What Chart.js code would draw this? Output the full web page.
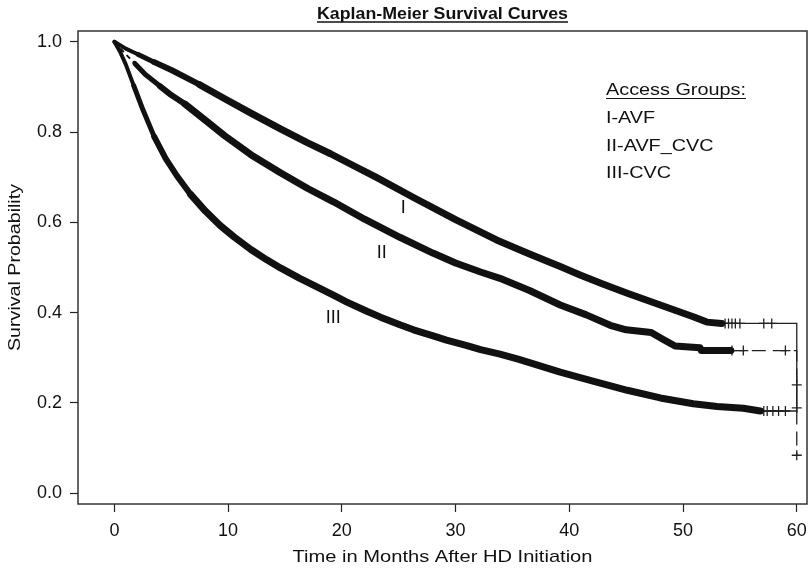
<!DOCTYPE html>
<html>
<head>
<meta charset="utf-8">
<script src="https://cdn.jsdelivr.net/npm/chart.js@4/dist/chart.umd.min.js"></script>
<style>
  html, body { margin: 0; padding: 0; background: #fff; }
  #wrap { width: 810px; height: 568px; }
</style>
</head>
<body>
<div id="wrap"><canvas id="km" width="810" height="568"></canvas></div>
<script>
// Kaplan-Meier estimates (months, survival)
const timeI = [0, 1, 2.1, 3.5, 5.05, 7.5, 9.7, 12, 14.6, 17, 19, 21, 23, 26.3, 30, 33.6, 36.5, 39.2, 41, 43, 45.1, 48, 50.9, 52.1, 53.4];
const survI = [1.0, 0.985, 0.972, 0.955, 0.937, 0.905, 0.874, 0.842, 0.807, 0.776, 0.752, 0.726, 0.7, 0.655, 0.606, 0.561, 0.53, 0.502, 0.483, 0.463, 0.443, 0.417, 0.391, 0.379, 0.376];

const timeII = [0, 0.9, 1.8, 2.7, 4, 5, 6.2, 8, 9.7, 12, 14.6, 17, 19.3, 22, 25.1, 28, 30, 32.2, 33.9, 36.5, 39.2, 41.5, 43.6, 45, 47.2, 48.3, 49.3, 51.5, 51.6, 54.2];
const survII = [1.0, 0.975, 0.952, 0.928, 0.902, 0.882, 0.862, 0.826, 0.792, 0.75, 0.71, 0.675, 0.645, 0.607, 0.567, 0.532, 0.51, 0.49, 0.476, 0.449, 0.417, 0.395, 0.372, 0.362, 0.356, 0.34, 0.326, 0.322, 0.316, 0.316];

const timeIII = [0, 0.5, 1, 1.7, 2.5, 3.5, 4.5, 5.5, 6.7, 8, 9.3, 10.5, 12, 13.4, 14.6, 16.3, 17.5, 19.3, 20.4, 22.2, 23.4, 25.1, 26.3, 28.1, 29.2, 31, 32.2, 33.9, 35.5, 39.2, 42, 45.1, 48, 50.9, 53, 55.3, 56.8];
const survIII = [1.0, 0.978, 0.95, 0.903, 0.85, 0.79, 0.742, 0.703, 0.662, 0.625, 0.593, 0.568, 0.54, 0.517, 0.499, 0.476, 0.461, 0.438, 0.424, 0.403, 0.39, 0.373, 0.362, 0.348, 0.339, 0.327, 0.318, 0.308, 0.297, 0.268, 0.249, 0.228, 0.211, 0.198, 0.192, 0.188, 0.182];

// sparse tails after the dense part
const tailTimeI = [53.4, 60, 60];
const tailSurvI = [0.376, 0.376, 0.18];
const tailTimeII = [54.2, 60, 60];
const tailSurvII = [0.316, 0.316, 0.084];
const tailTimeIII = [56.8, 60];
const tailSurvIII = [0.182, 0.182];

// censored observations (+)
const censTimeI = [53.7, 54.0, 54.3, 54.6, 55.0, 57.1, 57.8];
const censSurvI = [0.376, 0.376, 0.376, 0.376, 0.376, 0.376, 0.376];
const censTimeII = [54.3, 55.3, 59.0, 60, 60];
const censSurvII = [0.316, 0.316, 0.316, 0.24, 0.084];
const censTimeIII = [57.1, 57.4, 57.9, 58.4, 59.0, 60];
const censSurvIII = [0.182, 0.182, 0.182, 0.182, 0.182, 0.189];

const xTicks = [0, 10, 20, 30, 40, 50, 60];
const yTicks = [0, 0.2, 0.4, 0.6, 0.8, 1.0];

const groupNames = ["I-AVF", "II-AVF_CVC", "III-CVC"];
const curveTags = ["I", "II", "III"];
const curveTagTime = [25.4, 23.5, 19.25];
const curveTagSurv = [0.632, 0.532, 0.388];

const INK = "#111";
const FONT = "'Liberation Sans', Arial, Helvetica, sans-serif";

function pts(xs, ys) {
  return xs.map((x, i) => ({ x: x, y: ys[i] }));
}

// the dense run of "+" marks reads as a thick band, thinner near t = 0
function bandWidth(x) {
  if (x < 1.5) return 4;
  if (x < 3.5) return 5;
  if (x < 6) return 6;
  return 7;
}

function band(xs, ys, dashedStart) {
  return {
    data: pts(xs, ys),
    showLine: true,
    borderColor: INK,
    backgroundColor: INK,
    pointRadius: 0,
    tension: 0,
    borderJoinStyle: "round",
    borderCapStyle: "round",
    segment: {
      borderWidth: (ctx) => {
        const x = ctx.p0.parsed.x;
        if (dashedStart && x < 1.8) return 2;
        return bandWidth(x);
      },
      borderDash: (ctx) => (dashedStart && ctx.p0.parsed.x < 1.8 ? [5, 4] : undefined),
      borderCapStyle: (ctx) => (dashedStart && ctx.p0.parsed.x < 1.8 ? "butt" : undefined)
    }
  };
}

function tail(xs, ys, dash) {
  return {
    data: pts(xs, ys),
    showLine: true,
    borderColor: "#222",
    borderWidth: 1.3,
    borderDash: dash || [],
    pointRadius: 0
  };
}

function censor(xs, ys) {
  return {
    data: pts(xs, ys),
    showLine: false,
    pointStyle: "cross",
    pointRadius: 5,
    pointBorderWidth: 1.3,
    pointBorderColor: "#222",
    pointBackgroundColor: "#222"
  };
}

// the original lettering runs wider than Liberation Sans, so stretch it to width
function wideText(ctx, text, x, y, targetWidth, align, angle) {
  const w = ctx.measureText(text).width;
  const sx = targetWidth ? targetWidth / w : 1;
  ctx.save();
  ctx.translate(x, y);
  if (angle) ctx.rotate(angle);
  ctx.scale(sx, 1);
  ctx.textAlign = align;
  ctx.fillText(text, 0, 0);
  ctx.restore();
  return { width: w * sx, scale: sx };
}

const decorPlugin = {
  id: "decor",
  afterDraw(chart) {
    const ctx = chart.ctx;
    const a = chart.chartArea;
    const xs = chart.scales.x;
    const ys = chart.scales.y;
    const cx = (a.left + a.right) / 2;
    const cy = (a.top + a.bottom) / 2;

    ctx.save();
    ctx.strokeStyle = "#333";
    ctx.lineWidth = 1.5;
    ctx.strokeRect(a.left, a.top, a.right - a.left, a.bottom - a.top);

    ctx.fillStyle = INK;
    ctx.strokeStyle = INK;
    ctx.textBaseline = "alphabetic";

    // main title, bold and underlined
    ctx.font = "bold 17px " + FONT;
    const t = wideText(ctx, "Kaplan-Meier Survival Curves", cx, 19, 251, "center");
    ctx.lineWidth = 1.3;
    ctx.beginPath();
    ctx.moveTo(cx - t.width / 2, 22);
    ctx.lineTo(cx + t.width / 2, 22);
    ctx.stroke();

    // axis titles
    ctx.font = "17px " + FONT;
    wideText(ctx, "Time in Months After HD Initiation", cx, 562, 300, "center");
    wideText(ctx, "Survival Probability", 20, cy, 167, "center", -Math.PI / 2);

    // group legend
    const lx = 606;
    const head = wideText(ctx, "Access Groups:", lx, 95, 140, "left");
    ctx.lineWidth = 1.2;
    ctx.beginPath();
    ctx.moveTo(lx, 98.5);
    ctx.lineTo(lx + head.width, 98.5);
    ctx.stroke();
    groupNames.forEach((name, i) => {
      const w = ctx.measureText(name).width;
      wideText(ctx, name, lx, 123 + i * 27.6, w * head.scale, "left");
    });

    // curve tags
    ctx.font = "18px " + FONT;
    ctx.textAlign = "center";
    ctx.textBaseline = "middle";
    curveTags.forEach((tag, i) => {
      ctx.fillText(tag, xs.getPixelForValue(curveTagTime[i]), ys.getPixelForValue(curveTagSurv[i]));
    });
    ctx.restore();
  }
};

new Chart(document.getElementById("km"), {
  type: "scatter",
  data: {
    datasets: [
      band(timeI, survI, false),
      band(timeII, survII, true),
      band(timeIII, survIII, false),
      tail(tailTimeI, tailSurvI),
      tail(tailTimeII, tailSurvII, [14, 7]),
      tail(tailTimeIII, tailSurvIII),
      censor(censTimeI, censSurvI),
      censor(censTimeII, censSurvII),
      censor(censTimeIII, censSurvIII)
    ]
  },
  options: {
    responsive: false,
    animation: false,
    events: [],
    layout: { autoPadding: false, padding: { top: 31, right: 3, left: 0, bottom: 0 } },
    plugins: {
      legend: { display: false },
      tooltip: { enabled: false },
      title: { display: false }
    },
    scales: {
      x: {
        type: "linear",
        min: -3.2,
        max: 60.9,
        afterBuildTicks: (s) => { s.ticks = xTicks.map((v) => ({ value: v })); },
        afterFit: (s) => {
          s.height = 64;
          s.paddingLeft = 0;
          s.paddingRight = 0;
        },
        grid: { drawOnChartArea: false, drawTicks: true, tickLength: 8, tickColor: "#222", tickWidth: 1.2 },
        border: { display: false },
        ticks: { color: INK, font: { family: FONT, size: 18 }, padding: 8, maxRotation: 0 },
        title: { display: false }
      },
      y: {
        type: "linear",
        min: -0.024,
        max: 1.024,
        afterBuildTicks: (s) => { s.ticks = yTicks.map((v) => ({ value: v })); },
        afterFit: (s) => {
          s.width = 78;
          s.paddingTop = 0;
          s.paddingBottom = 0;
        },
        grid: { drawOnChartArea: false, drawTicks: true, tickLength: 8, tickColor: "#222", tickWidth: 1.2 },
        border: { display: false },
        ticks: {
          color: INK,
          font: { family: FONT, size: 18 },
          padding: 8,
          callback: (v) => Number(v).toFixed(1)
        },
        title: { display: false }
      }
    }
  },
  plugins: [decorPlugin]
});
</script>
</body>
</html>
